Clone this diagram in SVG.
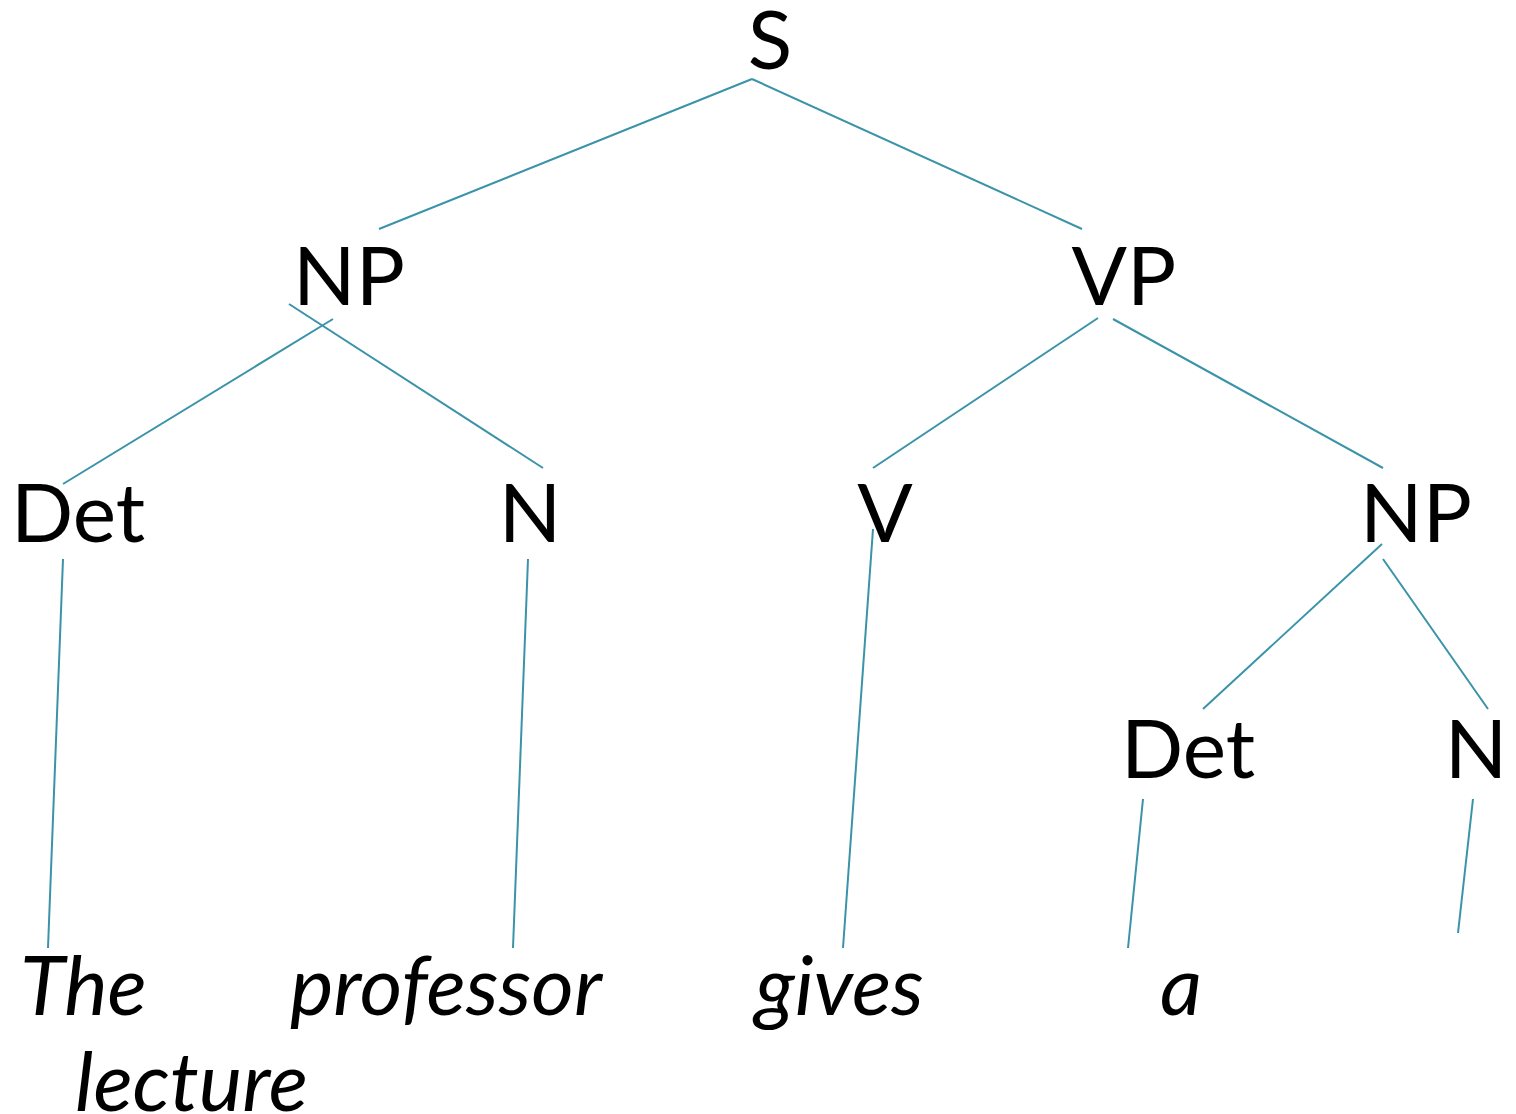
<svg xmlns="http://www.w3.org/2000/svg" width="1516" height="1114" viewBox="0 0 1516 1114">
  <style>
    .cat { font-family: Lato, "Open Sans", "Liberation Sans", sans-serif; font-size: 82px; fill: #000; text-anchor: middle; }
    .word { font-family: Lato, "Open Sans", "Liberation Sans", sans-serif; font-size: 82px; font-style: italic; fill: #000; }
    .edge { stroke: #3a93a8; stroke-width: 2; fill: none; }
  </style>
  <rect width="1516" height="1114" fill="#fff"/>

  <!-- branches of the parse tree -->
  <g id="connectors">
    <line class="edge" x1="752" y1="79" x2="379" y2="229"/>
    <line class="edge" x1="752" y1="79" x2="1082" y2="229"/>
    <line class="edge" x1="333" y1="319" x2="63" y2="484"/>
    <line class="edge" x1="289" y1="304" x2="543" y2="468"/>
    <line class="edge" x1="1098" y1="318" x2="873" y2="468"/>
    <line class="edge" x1="1113" y1="319" x2="1383" y2="468"/>
    <line class="edge" x1="63" y1="559" x2="48" y2="948"/>
    <line class="edge" x1="528" y1="559" x2="513" y2="948"/>
    <line class="edge" x1="873" y1="529" x2="843" y2="948"/>
    <line class="edge" x1="1382" y1="544" x2="1203" y2="709"/>
    <line class="edge" x1="1383" y1="559" x2="1488" y2="709"/>
    <line class="edge" x1="1143" y1="799" x2="1128" y2="948"/>
    <line class="edge" x1="1473" y1="799" x2="1458" y2="933"/>
  </g>

  <!-- category nodes -->
  <g id="node-S"><text class="cat" x="770" y="69">S</text></g>
  <g id="node-NP1"><text class="cat" x="349" y="305">NP</text></g>
  <g id="node-VP"><text class="cat" x="1124" y="305">VP</text></g>
  <g id="node-Det1"><text class="cat" x="78" y="542">Det</text></g>
  <g id="node-N1"><text class="cat" x="530" y="542">N</text></g>
  <g id="node-V"><text class="cat" x="885" y="542">V</text></g>
  <g id="node-NP2"><text class="cat" x="1416" y="542">NP</text></g>
  <g id="node-Det2"><text class="cat" x="1188" y="778">Det</text></g>
  <g id="node-N2"><text class="cat" x="1476" y="778">N</text></g>

  <!-- terminal words -->
  <g id="word-the"><text class="word" x="20" y="1015">The</text></g>
  <g id="word-professor"><text class="word" x="290" y="1015">professor</text></g>
  <g id="word-gives"><text class="word" x="755" y="1015">gives</text></g>
  <g id="word-a"><text class="word" x="1160" y="1015">a</text></g>
  <g id="word-lecture"><text class="word" x="75" y="1111">lecture</text></g>
</svg>
